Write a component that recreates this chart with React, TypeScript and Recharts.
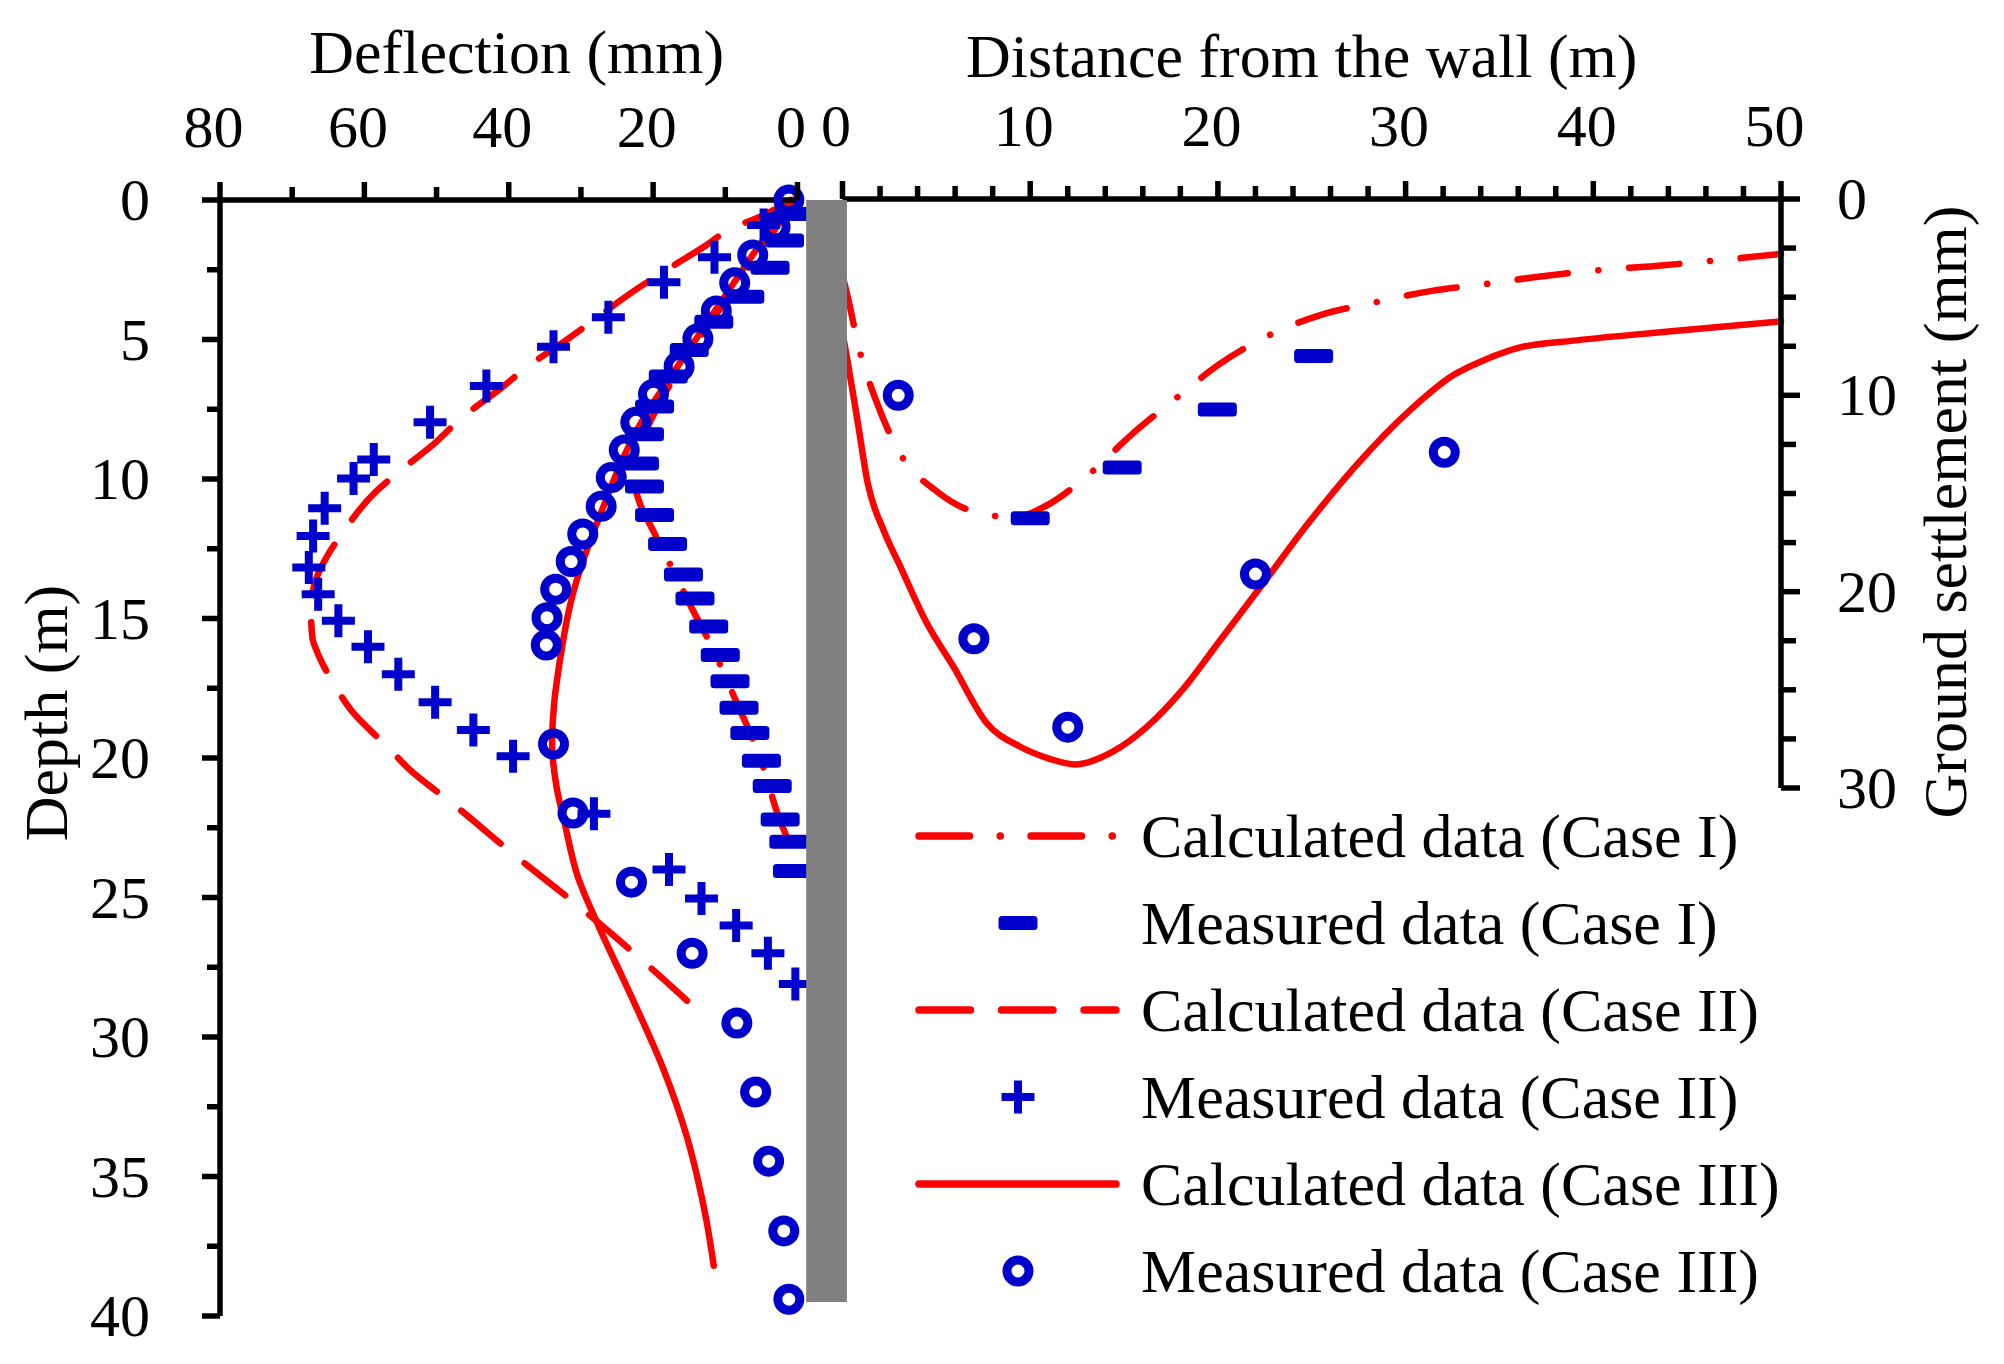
import React from 'react';
import { ComposedChart, Line, Scatter, XAxis, YAxis, ReferenceArea, Legend } from 'recharts';

const W = 2004;
const H = 1364;
const FONT = "'Liberation Serif', 'Times New Roman', Times, serif";
const RED = '#FF0000';
const BLUE = '#0000CC';
const GRAY = '#808080';
const AXIS_W = 5.5;
const FS = 60;
const FS_TITLE = 62;
const LINE_W = 6.5;
const DASHDOT = '50.5 30.7 0.1 30.7';
const DASHED = '51.5 31';

// ---------- tick values ----------
const deflTicks = [0, 10, 20, 30, 40, 50, 60, 70, 80];
const deflMajor = [0, 20, 40, 60, 80];
const depthTicks = [0, 2.5, 5, 7.5, 10, 12.5, 15, 17.5, 20, 22.5, 25, 27.5, 30, 32.5, 35, 37.5, 40];
const depthMajor = [0, 5, 10, 15, 20, 25, 30, 35, 40];
const distTicks = [0, 2, 4, 6, 8, 10, 12, 14, 16, 18, 20, 22, 24, 26, 28, 30, 32, 34, 36, 38, 40, 42, 44, 46, 48, 50];
const distMajor = [0, 10, 20, 30, 40, 50];
const settleTicks = [0, 2.5, 5, 7.5, 10, 12.5, 15, 17.5, 20, 22.5, 25, 27.5, 30];
const settleMajor = [0, 10, 20, 30];

// ---------- wall (grey strip), in left-panel units ----------
const wallDefl = [-1.2, -6.85];
const wallDepth = [0, 39.5];

// ---------- left panel: [depth (m), deflection (mm)] ----------
const measIDefl = [
  [0.5, 0.5], [1.45, 1.8], [2.43, 3.8], [3.47, 7.3], [4.36, 11.6], [5.38, 15.0], [6.33, 17.9], [7.4, 19.8],
  [8.4, 21.2], [9.44, 21.9], [10.27, 21.2], [11.29, 19.8], [12.33, 18.0], [13.42, 15.8], [14.28, 14.2],
  [15.29, 12.3], [16.31, 10.7], [17.25, 9.35], [18.2, 8.1], [19.1, 6.6], [20.1, 5.0], [21.0, 3.5],
  [22.2, 2.4], [23.0, 1.2], [24.05, 0.7],
];
const measIIDefl = [
  [0.9, 4.7], [2.05, 11.5], [2.95, 18.5], [4.2, 26.2], [5.26, 33.8], [6.67, 43.1], [7.97, 50.9], [9.3, 58.7],
  [9.98, 61.5], [11.05, 65.5], [12.04, 67.1], [13.17, 67.7], [14.13, 66.4], [15.08, 63.6], [16.01, 59.5],
  [17.0, 55.3], [18.0, 50.2], [19.0, 44.9], [19.94, 39.4], [22.0, 28.2], [24.0, 17.8], [25.04, 13.3],
  [26.0, 8.5], [27.0, 4.1], [28.1, 0.3],
];
const measIIIDefl = [
  [0, 1.2], [0.97, 3.1], [1.97, 6.2], [2.97, 8.7], [3.98, 11.25], [4.97, 13.8], [5.97, 16.4], [6.96, 19.95],
  [7.97, 22.4], [8.96, 24.0], [9.95, 25.8], [10.98, 27.2], [11.97, 29.75], [12.96, 31.35], [13.95, 33.5],
  [14.97, 34.7], [15.95, 34.8], [19.5, 33.8], [21.97, 31.1], [24.45, 23.0], [27.0, 14.6], [29.5, 8.4],
  [31.97, 5.8], [34.45, 4.0], [36.95, 1.9], [39.4, 1.2],
];
const calcIDefl = [
  [0, 0.5], [1, 3.0], [2, 5.6], [3, 8.3], [4, 11.0], [5, 13.7], [6, 16.2], [7, 18.5], [8, 20.5], [9, 22.0],
  [9.8, 22.7], [10.9, 21.8], [11.8, 20.1], [12.7, 18.35], [13.6, 16.6], [14.5, 14.9], [16.1, 11.7],
  [17.2, 9.8], [18.2, 8.1], [19.2, 6.4], [20.5, 4.5], [21.9, 2.9], [23.65, 0.1],
];
const calcIIDefl = [
  [0, 0.8], [0.55, 4.8], [1.08, 9.6], [1.61, 12.6], [2.5, 18.1], [3.23, 22.5], [4.36, 28.5], [4.96, 31.7],
  [6.09, 38.0], [6.69, 40.8], [7.89, 46.9], [8.66, 50.0], [9.8, 55.5], [10.45, 58.4], [12.0, 63.2],
  [12.78, 65.2], [13.6, 66.7], [14.7, 67.4], [15.7, 67.2], [16.1, 66.7], [17.4, 64.1], [18.3, 61.8],
  [19.65, 56.6], [20.4, 53.8], [21.65, 47.7], [23.5, 39.1], [25.4, 29.9], [27.3, 21.3], [28.7, 15.3],
];
const calcIIIDefl = [
  [0, 1.0], [1, 3.6], [2, 6.3], [3, 8.9], [4, 11.5], [5, 14.1], [6, 16.7], [7, 19.3], [8, 21.7], [9, 23.7],
  [10, 25.4], [11, 26.9], [12, 28.4], [13, 29.8], [14, 31.0], [15, 31.9], [16, 32.6], [17, 33.2], [18, 33.7],
  [19.5, 34.0], [21, 33.4], [22.4, 32.2], [24.2, 30.5], [26, 27.6], [28.5, 23.1], [31.2, 18.5], [33.6, 15.3],
  [35.0, 13.9], [36.6, 12.6], [38.2, 11.6],
];

// ---------- right panel: [distance (m), settlement (mm)] ----------
const measISettle = [[10.0, 16.26], [14.9, 13.68], [19.97, 10.72], [25.1, 8.0]];
const measIIISettle = [[2.97, 10.0], [7.0, 22.4], [12.0, 26.9], [22.0, 19.1], [32.06, 12.9]];
const calcISettle = [
  [0, 3.9], [0.26, 4.9], [0.85, 7.5], [1.8, 10.3], [2.97, 12.8], [5.1, 14.95], [7.55, 16.06], [9.2, 16.2],
  [10.8, 15.65], [13.1, 14.05], [15.4, 12.0], [17.7, 10.2], [20.1, 8.4], [22.6, 7.0], [25.5, 5.9],
  [28.3, 5.28], [31.4, 4.68], [34.2, 4.34], [37.3, 3.93], [40.2, 3.63], [43.3, 3.41], [46.1, 3.17], [50, 2.8],
];
const calcIIISettle = [
  [0, 6.8], [0.26, 8.2], [0.8, 11.3], [1.35, 14.5], [2.2, 16.9], [3.07, 18.7], [4.49, 21.6], [5.9, 23.8],
  [7.69, 26.7], [9.47, 27.9], [11.0, 28.5], [12.4, 28.8], [14.4, 28.15], [16.2, 26.9], [18.2, 24.9],
  [20.1, 22.5], [22.4, 19.6], [24.7, 16.66], [27.3, 13.64], [30.3, 10.7], [32.55, 8.97],
  [34.2, 8.2], [36.1, 7.56], [39.1, 7.2], [44.0, 6.75], [50, 6.23],
];

const legendItems = [
  { label: 'Calculated data (Case I)', kind: 'dashdot' },
  { label: 'Measured data (Case I)', kind: 'dash' },
  { label: 'Calculated data (Case II)', kind: 'dashed' },
  { label: 'Measured data (Case II)', kind: 'plus' },
  { label: 'Calculated data (Case III)', kind: 'solid' },
  { label: 'Measured data (Case III)', kind: 'circle' },
];

// depth/deflection pairs -> {x: deflection, y: depth}
const toLeft = (arr: number[][]) => arr.map(([d, v]) => ({ x: v, y: d }));
// distance/settlement pairs -> {x: distance, y: settlement}
const toRight = (arr: number[][]) => arr.map(([d, s]) => ({ x: d, y: s }));

// ---------- marker shapes ----------
const DashMark = ({ cx, cy }: any) => (
  <rect x={cx - 19.5} y={cy - 7} width={39} height={14} rx={3.5} fill={BLUE} />
);
const PlusMark = ({ cx, cy }: any) => (
  <path d={`M${cx - 16.5},${cy}H${cx + 16.5}M${cx},${cy - 16.5}V${cy + 16.5}`} stroke={BLUE} strokeWidth={8} fill="none" />
);
const CircleMark = ({ cx, cy }: any) => (
  <circle cx={cx} cy={cy} r={11} stroke={BLUE} strokeWidth={9} fill="none" />
);

// ---------- tick renderers ----------
const textProps = { fontFamily: FONT, fontSize: FS, fill: '#000' };
const titleProps = { fontFamily: FONT, fontSize: FS_TITLE, fill: '#000' };

const TopTick = ({ x, y, payload, majors }: any) => {
  const major = majors.includes(payload.value);
  return (
    <g>
      <line x1={x} x2={x} y1={y} y2={y - (major ? 18 : 13)} stroke="#000" strokeWidth={AXIS_W} />
      {major && (
        <text x={x - 6.5} y={y - 53} textAnchor="middle" {...textProps}>
          {payload.value}
        </text>
      )}
    </g>
  );
};
const LeftTick = ({ x, y, payload, majors }: any) => {
  const major = majors.includes(payload.value);
  return (
    <g>
      <line x1={x} x2={x - (major ? 18 : 13)} y1={y} y2={y} stroke="#000" strokeWidth={AXIS_W} />
      {major && (
        <text x={x - 70} y={y + 20} textAnchor="end" {...textProps}>
          {payload.value}
        </text>
      )}
    </g>
  );
};
const RightTick = ({ x, y, payload, majors }: any) => {
  const major = majors.includes(payload.value);
  return (
    <g>
      <line x1={x} x2={x + (major ? 19 : 15)} y1={y} y2={y} stroke="#000" strokeWidth={AXIS_W} />
      {major && (
        <text x={x + 56} y={y + 20} textAnchor="start" {...textProps}>
          {payload.value}
        </text>
      )}
    </g>
  );
};

// ---------- axis titles ----------
const TopTitle = ({ viewBox, text, dx, lift }: any) => {
  const vb = viewBox || { x: 0, y: 0, width: 0, height: 0 };
  const cx = vb.x + vb.width / 2 + dx;
  const base = vb.y + vb.height - lift;
  return (
    <text x={cx} y={base} textAnchor="middle" {...titleProps}>
      {text}
    </text>
  );
};
const SideTitle = ({ viewBox, text, dx, dy }: any) => {
  const vb = viewBox || { x: 0, y: 0, width: 0, height: 0 };
  const bx = vb.x + dx;
  const cy = vb.y + vb.height / 2 + dy;
  return (
    <text x={bx} y={cy} textAnchor="middle" transform={`rotate(-90 ${bx} ${cy})`} {...titleProps}>
      {text}
    </text>
  );
};

// ---------- legend ----------
const renderLegend = () => (
  <svg width={900} height={540} style={{ display: 'block', overflow: 'visible' }}>
    {legendItems.map((it, i) => {
      const cy = 56 + i * 87;
      let sample: any = null;
      if (it.kind === 'dashdot')
        sample = <line x1={19} x2={216} y1={cy} y2={cy} stroke={RED} strokeWidth={7.5} strokeLinecap="round" strokeDasharray={DASHDOT} />;
      else if (it.kind === 'dashed')
        sample = <line x1={19} x2={216} y1={cy} y2={cy} stroke={RED} strokeWidth={7.5} strokeLinecap="round" strokeDasharray={DASHED} />;
      else if (it.kind === 'solid')
        sample = <line x1={19} x2={216} y1={cy} y2={cy} stroke={RED} strokeWidth={7.5} strokeLinecap="round" />;
      else if (it.kind === 'dash') sample = <DashMark cx={118} cy={cy} />;
      else if (it.kind === 'plus') sample = <PlusMark cx={118} cy={cy} />;
      else sample = <CircleMark cx={118} cy={cy} />;
      return (
        <g key={it.label}>
          {sample}
          <text x={241} y={cy + 21} {...titleProps}>
            {it.label}
          </text>
        </g>
      );
    })}
  </svg>
);

const lineCommon = {
  dataKey: 'y',
  stroke: RED,
  strokeWidth: LINE_W,
  strokeLinecap: 'round' as const,
  dot: false,
  activeDot: false,
  isAnimationActive: false,
  legendType: 'none' as const,
};

function LeftChart() {
  return (
    <ComposedChart width={W} height={H} margin={{ top: 199, left: 219, right: 1206.5, bottom: 48 }}>
      <XAxis
        type="number"
        dataKey="x"
        orientation="top"
        domain={[0, 80]}
        reversed
        ticks={deflTicks}
        interval={0}
        tickSize={0}
        tickMargin={0}
        tickLine={false}
        height={1}
        axisLine={{ stroke: '#000', strokeWidth: AXIS_W }}
        tick={(p: any) => <TopTick {...p} majors={deflMajor} />}
        label={(p: any) => <TopTitle viewBox={p.viewBox} text="Deflection (mm)" dx={8} lift={127} />}
      />
      <YAxis
        type="number"
        dataKey="y"
        orientation="left"
        domain={[0, 40]}
        reversed
        ticks={depthTicks}
        interval={0}
        tickSize={0}
        tickMargin={0}
        tickLine={false}
        width={1}
        axisLine={{ stroke: '#000', strokeWidth: AXIS_W }}
        tick={(p: any) => <LeftTick {...p} majors={depthMajor} />}
        label={(p: any) => <SideTitle viewBox={p.viewBox} text="Depth (m)" dx={-152} dy={-45} />}
      />
      <Line {...lineCommon} data={toLeft(calcIDefl)} type="monotoneY" strokeDasharray={DASHDOT} />
      <Line {...lineCommon} data={toLeft(calcIIDefl)} type="monotoneY" strokeDasharray={DASHED} />
      <Line {...lineCommon} data={toLeft(calcIIIDefl)} type="monotoneY" />
      <Scatter data={toLeft(measIDefl)} shape={(p: any) => <DashMark cx={p.cx} cy={p.cy} />} isAnimationActive={false} legendType="none" />
      <Scatter data={toLeft(measIIDefl)} shape={(p: any) => <PlusMark cx={p.cx} cy={p.cy} />} isAnimationActive={false} legendType="none" />
      <Scatter data={toLeft(measIIIDefl)} shape={(p: any) => <CircleMark cx={p.cx} cy={p.cy} />} isAnimationActive={false} legendType="none" />
      <ReferenceArea
        x1={wallDefl[0]}
        x2={wallDefl[1]}
        y1={wallDepth[0]}
        y2={wallDepth[1]}
        fill={GRAY}
        fillOpacity={1}
        stroke="none"
        ifOverflow="visible"
        {...({ zIndex: 3000 } as any)}
      />
    </ComposedChart>
  );
}

function RightChart() {
  return (
    <ComposedChart width={W} height={H} margin={{ top: 198, left: 842.5, right: 222, bottom: 576 }}>
      <XAxis
        type="number"
        dataKey="x"
        orientation="top"
        domain={[0, 50]}
        ticks={distTicks}
        interval={0}
        tickSize={0}
        tickMargin={0}
        tickLine={false}
        height={1}
        axisLine={{ stroke: '#000', strokeWidth: AXIS_W }}
        tick={(p: any) => <TopTick {...p} majors={distMajor} />}
        label={(p: any) => <TopTitle viewBox={p.viewBox} text="Distance from the wall (m)" dx={-10} lift={122} />}
      />
      <YAxis
        type="number"
        dataKey="y"
        orientation="right"
        domain={[0, 30]}
        reversed
        ticks={settleTicks}
        interval={0}
        tickSize={0}
        tickMargin={0}
        tickLine={false}
        width={1}
        axisLine={{ stroke: '#000', strokeWidth: AXIS_W }}
        tick={(p: any) => <RightTick {...p} majors={settleMajor} />}
        label={(p: any) => <SideTitle viewBox={p.viewBox} text="Ground settlement (mm)" dx={185} dy={18.5} />}
      />
      <Line {...lineCommon} data={toRight(calcISettle)} type="monotoneX" strokeDasharray={DASHDOT} />
      <Line {...lineCommon} data={toRight(calcIIISettle)} type="monotoneX" />
      <Scatter data={toRight(measISettle)} shape={(p: any) => <DashMark cx={p.cx} cy={p.cy} />} isAnimationActive={false} legendType="none" />
      <Scatter data={toRight(measIIISettle)} shape={(p: any) => <CircleMark cx={p.cx} cy={p.cy} />} isAnimationActive={false} legendType="none" />
      <Legend
        layout="vertical"
        align="center"
        verticalAlign="middle"
        content={renderLegend}
        wrapperStyle={{ left: 900, top: 780, width: 900, height: 540, bottom: 'auto', right: 'auto' }}
      />
    </ComposedChart>
  );
}

export default function App() {
  return (
    <div style={{ position: 'absolute', left: 0, top: 0, width: W, height: H, background: '#fff', overflow: 'hidden' }}>
      <div style={{ position: 'absolute', left: 0, top: 0 }}>
        <RightChart />
      </div>
      <div style={{ position: 'absolute', left: 0, top: 0 }}>
        <LeftChart />
      </div>
    </div>
  );
}
